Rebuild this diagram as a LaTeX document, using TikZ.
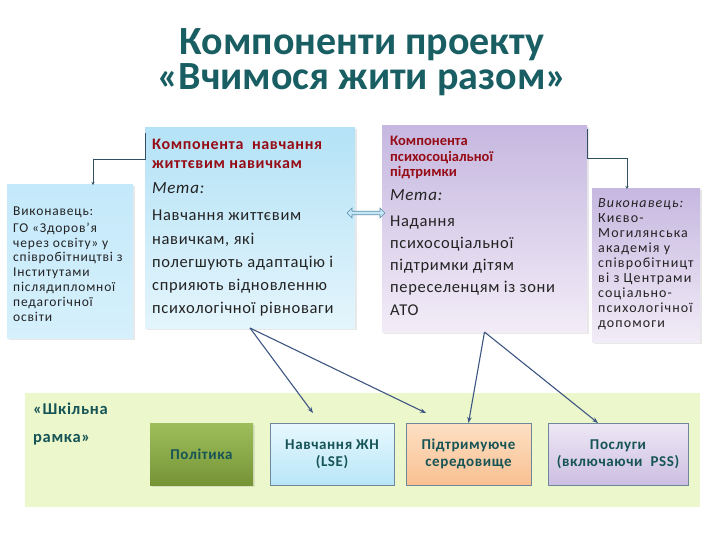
\documentclass[tikz,border=0pt]{standalone}
\usepackage{fontspec}
\setmainfont{Carlito}
\newfontfamily\trA[LetterSpace=4]{Carlito}
\newfontfamily\trB[LetterSpace=6]{Carlito}
\newfontfamily\trC[LetterSpace=8]{Carlito}
\usetikzlibrary{shapes.arrows,shadows,arrows.meta,calc}
\definecolor{titlec}{RGB}{24,94,98}
\definecolor{headc}{RGB}{150,12,22}
\definecolor{bodyc}{RGB}{35,35,35}
\definecolor{tealc}{RGB}{22,84,86}
\definecolor{blueT}{RGB}{180,226,246}
\definecolor{blueB}{RGB}{228,245,252}
\definecolor{lblueT}{RGB}{196,233,250}
\definecolor{lblueB}{RGB}{214,240,252}
\definecolor{purT}{RGB}{198,184,224}
\definecolor{purB}{RGB}{242,236,247}
\definecolor{greenP}{RGB}{236,248,204}
\definecolor{olT}{RGB}{158,190,92}
\definecolor{olB}{RGB}{118,148,54}
\definecolor{lseT}{RGB}{232,248,254}
\definecolor{lseB}{RGB}{184,230,248}
\definecolor{supT}{RGB}{253,224,196}
\definecolor{supB}{RGB}{249,192,146}
\definecolor{srvT}{RGB}{238,232,245}
\definecolor{srvB}{RGB}{204,190,226}
\definecolor{bordc}{RGB}{110,135,155}
\definecolor{arrc}{RGB}{62,86,130}
\definecolor{connc}{RGB}{50,80,100}
\definecolor{dblF}{RGB}{196,232,248}
\definecolor{dblD}{RGB}{90,140,170}
\begin{document}
\begin{tikzpicture}[x=1pt,y=-1pt,
  box/.style={anchor=north west, inner sep=0pt, outer sep=0pt},
  shad/.style={drop shadow={opacity=0.18, shadow xshift=1.5pt, shadow yshift=-1.5pt}},
  smallbox/.style={box, draw=bordc, line width=0.6pt},
  txt/.style={anchor=base west, inner sep=0pt, align=left, text=bodyc},
  btxt/.style={anchor=center, inner sep=0pt, align=center, text=tealc, font=\trA\fontsize{15}{17}\selectfont\bfseries},
  arr/.style={draw=arrc, line width=1.1pt, -{Stealth[length=6pt,width=4.5pt]}},
  conn/.style={draw=connc, line width=0.8pt, -{Stealth[length=3pt,width=3pt]}}]
\useasboundingbox[fill=white] (0,0) rectangle (720,540);

% title (anchor base = last line baseline)
\node[anchor=base, inner sep=0pt, align=center, text=titlec, font=\fontsize{40}{34.5}\selectfont\bfseries] (title) at (362,89.5) {Компоненти проекту\\«Вчимося жити разом»};

% green panel
\node[box, fill=greenP, minimum width=675pt, minimum height=114pt] (panel) at (25,393) {};
\node[txt, text=tealc, font=\trA\fontsize{16.5}{28}\selectfont\bfseries] (frame) at (33,442) {«Шкільна\\рамка»};

% left executor box
\node[box, shad, top color=lblueT, bottom color=lblueB, minimum width=126pt, minimum height=153pt] (lexec) at (7,185) {};
\node[txt, font=\trB\fontsize{13.5}{14.8}\selectfont] (lexect) at (13,321) {Виконавець:\\[1.8pt]ГО «Здоров’я\\через освіту» у\\співробітництві з\\Інститутами\\післядипломної\\педагогічної\\освіти};

% middle component box
\node[box, shad, top color=blueT, bottom color=blueB, minimum width=210pt, minimum height=200pt] (mid) at (145,128) {};
\node[txt, text=headc, font=\trA\fontsize{16}{19}\selectfont\bfseries] (midh) at (152,168.3) {Компонента\ \ навчання\\життєвим навичкам};
\node[txt, font=\trA\fontsize{17}{19}\selectfont\itshape] (midm) at (152,194) {Мета:};
\node[txt, font=\trA\fontsize{16.5}{23.3}\selectfont] (midb) at (152,313.9) {Навчання життєвим\\навичкам, які\\полегшують адаптацію і\\сприяють відновленню\\психологічної рівноваги};

% right component box
\node[box, shad, top color=purT, bottom color=purB, minimum width=205pt, minimum height=206pt] (rbox) at (382,126) {};
\node[txt, text=headc, font=\fontsize{14.5}{15.4}\selectfont\bfseries] (rboxh) at (390,176.8) {Компонента\\психосоціальної\\підтримки};
\node[txt, font=\trA\fontsize{17}{19}\selectfont\itshape] (rboxm) at (390,200.7) {Мета:};
\node[txt, font=\trA\fontsize{16.5}{22.3}\selectfont] (rboxb) at (390,315.2) {Надання\\психосоціальної\\підтримки дітям\\переселенцям із зони\\АТО};

% right executor box
\node[box, shad, top color=purT, bottom color=purB, minimum width=108pt, minimum height=153pt] (rexec) at (592,189) {};
\node[txt, font=\trC\fontsize{14}{15}\selectfont] (rexect) at (598,327) {\textit{Виконавець:}\\Києво-\\Могилянська\\академія у\\співробітницт\\ві з Центрами\\соціально-\\психологічної\\допомоги};

% double arrow
\node[double arrow, draw=dblD, fill=dblF, line width=0.6pt, minimum width=10pt, minimum height=38pt, double arrow head extend=2.5pt, inner sep=1pt] (dbl) at (366,213) {};

% bottom boxes
\node[box, shad, top color=olT, bottom color=olB, minimum width=103pt, minimum height=62pt] (pol) at (150,423) {};
\node[btxt] (polt) at (pol.center) {Політика};
\node[smallbox, top color=lseT, bottom color=lseB, minimum width=124pt, minimum height=62pt] (lse) at (270,423) {};
\node[btxt] (lset) at (lse.center) {Навчання ЖН\\(LSE)};
\node[smallbox, top color=supT, bottom color=supB, minimum width=125pt, minimum height=62pt] (sup) at (406,423) {};
\node[btxt] (supt) at (sup.center) {Підтримуюче\\середовище};
\node[smallbox, top color=srvT, bottom color=srvB, minimum width=140pt, minimum height=62pt] (srv) at (548,423) {};
\node[btxt] (srvt) at (srv.center) {Послуги\\(включаючи\ \ PSS)};

% elbow connectors
\draw[conn] ([yshift=-5pt]mid.north west) -- ++(0,26) -| ([xshift=23pt]lexec.north);
\draw[conn] ([yshift=-3pt]rbox.north east) -- ++(0,29) -| ([xshift=-19pt]rexec.north);

% arrows
\coordinate (e1) at (313,413);
\coordinate (e2) at (426,413);
\coordinate (e4) at (598,423);
\draw[arr] (mid.south) -- (e1);
\draw[arr] (mid.south) -- (e2);
\draw[arr] (rbox.south) -- (sup.north);
\draw[arr] (rbox.south) -- (e4);
\end{tikzpicture}
\end{document}
